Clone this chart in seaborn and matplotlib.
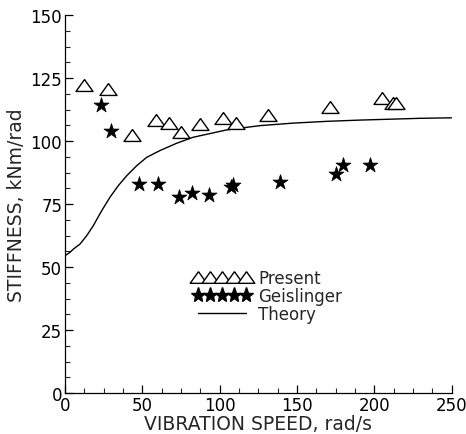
import matplotlib
matplotlib.use("Agg")
import matplotlib.pyplot as plt
from matplotlib.lines import Line2D
from matplotlib.ticker import MultipleLocator, AutoMinorLocator
import seaborn as sns
import pandas as pd

# ---- data ----
present_speed = [12.3, 27.6, 43.5, 59.1, 67.3, 75.2, 87.3, 102.4, 110.4, 131.5, 171.4, 204.8, 212.4, 214.1]
present_stiff = [122.2, 120.6, 102.4, 108.5, 107.1, 103.7, 106.7, 109.1, 107.0, 110.3, 113.4, 117.1, 115.0, 115.0]

geis_speed = [23.3, 29.8, 48.1, 60.0, 73.9, 81.9, 93.4, 107.6, 108.6, 139.1, 175.3, 179.6, 197.3]
geis_stiff = [114.3, 103.8, 82.9, 82.9, 77.9, 79.5, 78.6, 81.6, 82.4, 83.9, 86.9, 90.5, 90.5]

theory_speed = [0, 3.2, 5.4, 9.7, 14.0, 18.3, 23.7, 29.1, 34.5, 39.9, 46.4, 52.8, 61.4,
                72.2, 83.0, 104.6, 126.1, 147.7, 169.3, 190.8, 229.6, 250]
theory_stiff = [54.5, 55.8, 57.1, 59.1, 62.4, 66.4, 72.3, 77.7, 82.3, 86.2, 90.2, 93.5, 96.2,
                99.1, 101.5, 104.4, 106.1, 107.1, 107.8, 108.3, 109.0, 109.2]

series_labels = ["Present", "Geislinger", "Theory"]
x_label = "VIBRATION SPEED, rad/s"
y_label = "STIFFNESS, kNm/rad"

sns.set_style("ticks")
plt.rcParams["font.family"] = ["DejaVu Sans"]
plt.rcParams["font.size"] = 12

fig = plt.figure(figsize=(4.66, 4.35), dpi=100)
ax = fig.add_axes([65 / 466, 1 - 394 / 435, (451.5 - 65) / 466, (394 - 16) / 435])

tri = [(0, 0.7), (-1, -0.7), (1, -0.7), (0, 0.7)]

df_p = pd.DataFrame({"x": present_speed, "y": present_stiff})
df_g = pd.DataFrame({"x": geis_speed, "y": geis_stiff})
df_t = pd.DataFrame({"x": theory_speed, "y": theory_stiff})

sns.lineplot(data=df_t, x="x", y="y", color="black", linewidth=1.0, ax=ax, legend=False)
sns.scatterplot(data=df_p, x="x", y="y", marker=tri, s=150, facecolor="white",
                edgecolor="black", linewidth=1.0, ax=ax, legend=False, zorder=3)
sns.scatterplot(data=df_g, x="x", y="y", marker="*", s=130, color="black",
                edgecolor="black", linewidth=0.5, ax=ax, legend=False, zorder=3)

ax.set_xlim(0, 250)
ax.set_ylim(0, 150)
ax.xaxis.set_major_locator(MultipleLocator(50))
ax.yaxis.set_major_locator(MultipleLocator(25))
ax.xaxis.set_minor_locator(AutoMinorLocator(4))
ax.yaxis.set_minor_locator(AutoMinorLocator(4))
ax.tick_params(which="major", direction="in", length=6, width=0.9, pad=2, labelsize=12, colors="black")
ax.tick_params(which="minor", direction="in", length=3.5, width=0.8)
for s in ["top", "right"]:
    ax.spines[s].set_visible(False)
for s in ["left", "bottom"]:
    ax.spines[s].set_linewidth(0.9)
    ax.spines[s].set_color("black")

ax.set_xlabel(x_label, fontsize=13.5, labelpad=0)
ax.set_ylabel(y_label, fontsize=13.5, labelpad=3)

handles = [
    Line2D([], [], linestyle="none", marker=tri, markersize=12, markerfacecolor="white",
           markeredgecolor="black", markeredgewidth=1.0),
    Line2D([], [], linestyle="none", marker="*", markersize=11, color="black"),
    Line2D([], [], color="black", linewidth=1.0),
]
ax.legend(handles, series_labels, loc="upper left", bbox_to_anchor=(193 / 466, 1 - 270 / 435),
          bbox_transform=fig.transFigure, frameon=False, numpoints=5, handlelength=3.5,
          handletextpad=0.4, labelspacing=0.0, borderpad=0, borderaxespad=0, fontsize=12)

fig.savefig("out.png", dpi=100)
